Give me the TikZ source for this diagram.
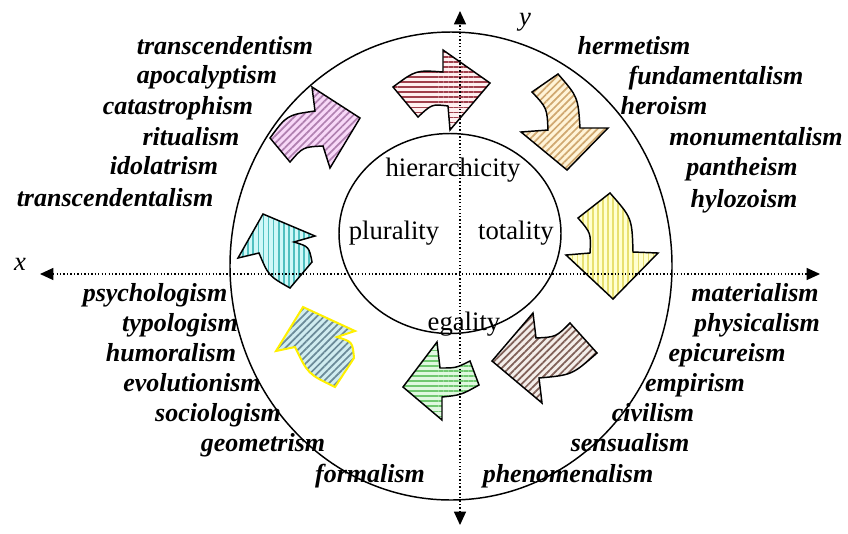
\documentclass[tikz,border=0pt]{standalone}
\usepackage{fontspec}
\setmainfont{Liberation Serif}
\usetikzlibrary{patterns.meta,arrows.meta,shapes.geometric}
\definecolor{pinkbg}{HTML}{F8D8F8}\definecolor{pinkst}{HTML}{B080B0}
\definecolor{redbg}{HTML}{FFF0F0}\definecolor{redst}{HTML}{A0404C}
\definecolor{tanbg}{HTML}{FFF4D8}\definecolor{tanst}{HTML}{D0A870}
\definecolor{yelbg}{HTML}{FFFFD0}\definecolor{yelst}{HTML}{E8E070}
\definecolor{brnbg}{HTML}{F4EEEA}\definecolor{brnst}{HTML}{806058}
\definecolor{grnbg}{HTML}{E0F8E0}\definecolor{grnst}{HTML}{70C870}
\definecolor{blubg}{HTML}{D0ECF0}\definecolor{blust}{HTML}{6A8A98}
\definecolor{cyabg}{HTML}{D0F8F8}\definecolor{cyast}{HTML}{50C0C0}
\definecolor{outlineyellow}{HTML}{FFF000}
\begin{document}
\begin{tikzpicture}[x=0.75pt,y=-0.75pt,
  lbl/.style={font=\fontsize{19.5}{23}\selectfont\bfseries\itshape, anchor=mid, inner sep=0pt},
  ctext/.style={font=\fontsize{20}{24}\selectfont, anchor=mid, inner sep=0pt},
  axlbl/.style={font=\fontsize{20}{24}\selectfont\itshape, anchor=mid, inner sep=0pt},
  ring/.style={draw=black, line width=1.1pt, ellipse, inner sep=0pt},
  axis/.style={line width=0.9pt, dash pattern=on 1pt off 1.6pt, {Triangle[length=10pt,width=9pt]}-{Triangle[length=10pt,width=9pt]}},
  blk/.style 2 args={draw=black, line width=1.1pt, line join=miter, preaction={fill=#1}, pattern color=#2},
  hstripe/.style={pattern={Lines[angle=0,distance=3.8pt,line width=1.3pt]}},
  vstripe/.style={pattern={Lines[angle=90,distance=3.8pt,line width=1.3pt]}},
  dstripe/.style={pattern={Lines[angle=45,distance=3.8pt,line width=1.3pt]}}
]
\useasboundingbox (0,0) rectangle (848,533);

% rings
\node[ring, minimum width=331.5pt, minimum height=351pt] (outer) at (451,266) {};
\node[ring, minimum width=166.5pt, minimum height=150pt] (inner) at (450,233.5) {};

% arrows (clockwise)
% pink
\path[blk={pinkbg}{pinkst}, dstripe] (270,138) .. controls (287,115) .. (315,111) -- (312,87) -- (360,118) -- (330,168) -- (323,146) .. controls (303,147) .. (290,162) -- cycle;
% red
\path[blk={redbg}{redst}, hstripe] (393,87) .. controls (416,70) .. (443,72) -- (443,50) -- (490,83) -- (450,130) -- (448,106) .. controls (432,104) .. (418,117) -- cycle;
% tan
\path[blk={tanbg}{tanst}, dstripe] (532,92) -- (558,74) .. controls (578,97) .. (580,128) -- (608,128) -- (567,170) -- (521,132) -- (548,130) .. controls (547,108) .. (532,92) -- cycle;
% yellow
\path[blk={yelbg}{yelst}, vstripe] (578,218) -- (610,193) .. controls (632,218) .. (633,252) -- (658,253) -- (613,299) -- (566,255) -- (590,253) .. controls (591,233) .. (578,218) -- cycle;
% brown
\path[blk={brnbg}{brnst}, dstripe] (570,323) -- (597,353) .. controls (572,375) .. (539,378) -- (542,403) -- (492,361) -- (533,313) -- (536,338) .. controls (556,337) .. (570,323) -- cycle;
% green
\path[blk={grnbg}{grnst}, hstripe] (437,342) -- (440,368) .. controls (456,368) .. (470,361) -- (479,385) .. controls (461,395) .. (442,397) -- (442,420) -- (403,387) -- cycle;
% blue-gray, yellow outline
\path[blk={blubg}{blust}, draw=outlineyellow, line width=1.5pt, dstripe] (303,307) -- (355,331) -- (337,337) .. controls (352.5,341.8) .. (354,358) -- (335,387) .. controls (308,374) .. (295,347) -- (276,351) -- cycle;
% cyan
\path[blk={cyabg}{cyast}, vstripe] (263,214) -- (315,236) -- (294,242) .. controls (309,246.6) .. (312,262) -- (290,288) .. controls (268.5,275.8) .. (259,253) -- (238,258) -- cycle;

% axes
\coordinate (xL) at (40,274);
\coordinate (xR) at (820,274);
\coordinate (yT) at (460,11);
\coordinate (yB) at (460,525);
\draw[axis] (xL) -- (xR);
\draw[axis] (yB) -- (yT);
\node[axlbl] (xlab) at (20,267) {x};
\node[axlbl] (ylab) at (525,22) {y};

% inner texts
\node[ctext] (hier) at (453,173) {hierarchicity};
\node[ctext] (plur) at (394,236) {plurality};
\node[ctext] (tota) at (516,236) {totality};
\node[ctext] (egal) at (464,327) {egality};

% top-left labels
\node[lbl] (l1) at (225,51) {transcendentism};
\node[lbl] (l2) at (207,80) {apocalyptism};
\node[lbl] (l3) at (178,111) {catastrophism};
\node[lbl] (l4) at (191,142) {ritualism};
\node[lbl] (l5) at (164,171) {idolatrism};
\node[lbl] (l6) at (115,203) {transcendentalism};
% top-right labels
\node[lbl] (r1) at (634,51) {hermetism};
\node[lbl] (r2) at (716,81) {fundamentalism};
\node[lbl] (r3) at (664,111) {heroism};
\node[lbl] (r4) at (756,142) {monumentalism};
\node[lbl] (r5) at (742,172) {pantheism};
\node[lbl] (r6) at (744,204) {hylozoism};
% bottom-right labels
\node[lbl] (b1) at (755,298) {materialism};
\node[lbl] (b2) at (757,328) {physicalism};
\node[lbl] (b3) at (727,358) {epicureism};
\node[lbl] (b4) at (695,388) {empirism};
\node[lbl] (b5) at (653,418) {civilism};
\node[lbl] (b6) at (630,448) {sensualism};
\node[lbl] (b7) at (568,479) {phenomenalism};
% bottom-left labels
\node[lbl] (c1) at (155,298) {psychologism};
\node[lbl] (c2) at (180,328) {typologism};
\node[lbl] (c3) at (171,358) {humoralism};
\node[lbl] (c4) at (192,388) {evolutionism};
\node[lbl] (c5) at (218,418) {sociologism};
\node[lbl] (c6) at (263,448) {geometrism};
\node[lbl] (c7) at (370,479) {formalism};
\end{tikzpicture}
\end{document}
